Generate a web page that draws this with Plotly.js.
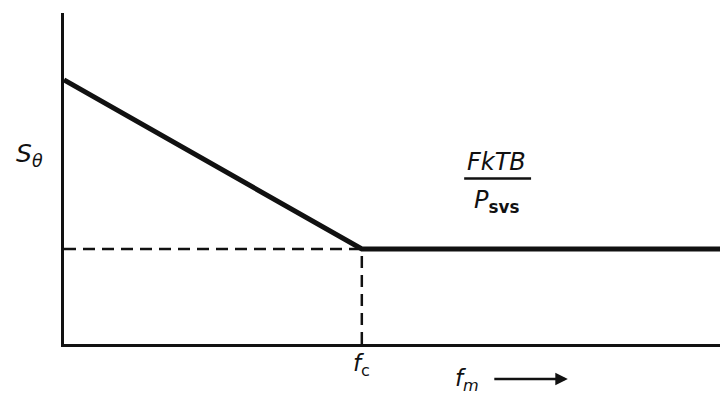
<!DOCTYPE html>
<html>
<head>
<meta charset="utf-8">
<script src="https://cdn.plot.ly/plotly-3.0.1.min.js"></script>
<style>
  html, body { margin: 0; padding: 0; background: #fff; }
  #chart { width: 720px; height: 396px; }
</style>
</head>
<body>
<div id="chart"></div>
<script>
// Sketch of the phase noise spectrum S_theta vs modulation frequency f_m.
// Slope falls until the corner frequency f_c, then flat at FkTB / P_svs.

const freq = [0, 4.54, 10];          // f_m, arbitrary units
const spectrum = [7.98, 2.87, 2.87]; // S_theta, arbitrary units
const cornerFreq = 4.54;             // f_c
const floorLevel = 2.87;             // FkTB / P_svs

const INK = '#111';
const FONT = 'DejaVu Sans, Liberation Sans, sans-serif';

const traces = [
  { x: [0, cornerFreq], y: [floorLevel, floorLevel], mode: 'lines',
    line: { color: INK, width: 2.5, dash: '12px,7px' }, hoverinfo: 'skip' },
  { x: [cornerFreq, cornerFreq], y: [0, floorLevel], mode: 'lines',
    line: { color: INK, width: 2.5, dash: '12px,7px' }, hoverinfo: 'skip' },
  { x: freq, y: spectrum, mode: 'lines',
    line: { color: INK, width: 5 }, hoverinfo: 'skip' },
];

const axisBase = {
  showgrid: false, zeroline: false, showticklabels: false, ticks: '',
  showline: true, linecolor: INK, linewidth: 3,
};

// centred text helper so paper-ref labels don't auto-anchor
const label = (o) => ({ showarrow: false, xanchor: 'center', yanchor: 'middle', ...o });

const layout = {
  width: 720, height: 396,
  paper_bgcolor: '#fff', plot_bgcolor: '#fff',
  margin: { t: 13, r: 0, b: 52, l: 64 },
  showlegend: false,
  font: { family: FONT, color: INK },
  xaxis: { ...axisBase, range: [0, 10] },
  yaxis: { ...axisBase, range: [0, 10] },
  shapes: [
    // fraction bar
    { type: 'line', xref: 'x', yref: 'y', x0: 6.1, x1: 7.12, y0: 5.0, y1: 5.0,
      line: { color: INK, width: 2.5 } },
  ],
  annotations: [
    label({ x: -0.052, y: 0.571, xref: 'paper', yref: 'paper',
      text: '<i>S</i><sub><i>θ</i></sub>', font: { size: 25 } }),
    label({ x: 6.6, y: 5.5, xref: 'x', yref: 'y',
      text: '<i>FkTB</i>', font: { size: 24 } }),
    label({ x: 6.6, y: 4.3, xref: 'x', yref: 'y',
      text: '<i>P</i><sub><b>svs</b></sub>', font: { size: 24 } }),
    label({ x: cornerFreq, y: -0.063, xref: 'x', yref: 'paper',
      text: '<i>f</i><sub>c</sub>', font: { size: 23 } }),
    label({ x: 0.614, y: -0.109, xref: 'paper', yref: 'paper',
      text: '<i>f</i><sub><i>m</i></sub>', font: { size: 23 } }),
    { x: 0.768, y: -0.106, xref: 'paper', yref: 'paper', ax: -75, ay: 0,
      text: '', showarrow: true,
      arrowhead: 2, arrowsize: 1, arrowwidth: 2.5, arrowcolor: INK },
  ],
};

Plotly.newPlot('chart', traces, layout, { displayModeBar: false, staticPlot: true });
</script>
</body>
</html>
